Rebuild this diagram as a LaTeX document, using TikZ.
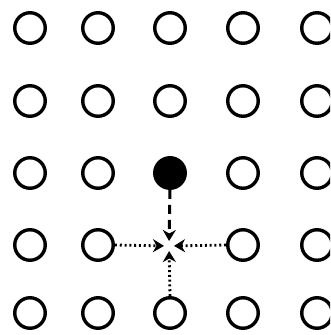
\documentclass[tikz,border=0pt]{standalone}
\usetikzlibrary{arrows.meta}
\begin{document}
\begin{tikzpicture}[x=1pt,y=-1pt,
  ring/.style={circle,draw=black,line width=3.4pt,minimum size=30.5pt,inner sep=0pt},
  full/.style={ring,fill=black},
  flow/.style={line width=2.8pt,dash pattern=on 2pt off 2.8pt,
    -{Stealth[length=11pt,width=13pt,inset=3.5pt]},shorten >=5pt},
  drop/.style={line width=3pt,dash pattern=on 9pt off 6pt,
    -{Stealth[length=11pt,width=13pt,inset=3.5pt]},shorten >=5pt}]
\useasboundingbox (0,0) rectangle (330,335);
\clip (0,0) rectangle (330,335);
\foreach \c/\x in {1/30,2/98,3/170,4/243,5/317}{
  \foreach \r/\y in {1/28,2/101,3/173,4/245,5/313}{
    \ifnum\c=3 \ifnum\r=4 \else\ifnum\r=3 \else
      \node[ring] (n-\r-\c) at (\x,\y) {};
    \fi\fi
    \else
      \node[ring] (n-\r-\c) at (\x,\y) {};
    \fi
  }
}
\node[full] (n-3-3) at (170,173) {};
\coordinate (c) at (169,246);
\draw[flow] (n-4-2.east) -- (c);
\draw[flow] (n-4-4.west) -- (c);
\draw[flow] (n-5-3.north) -- (c);
\draw[drop] (n-3-3.south) -- (c);
\end{tikzpicture}
\end{document}
